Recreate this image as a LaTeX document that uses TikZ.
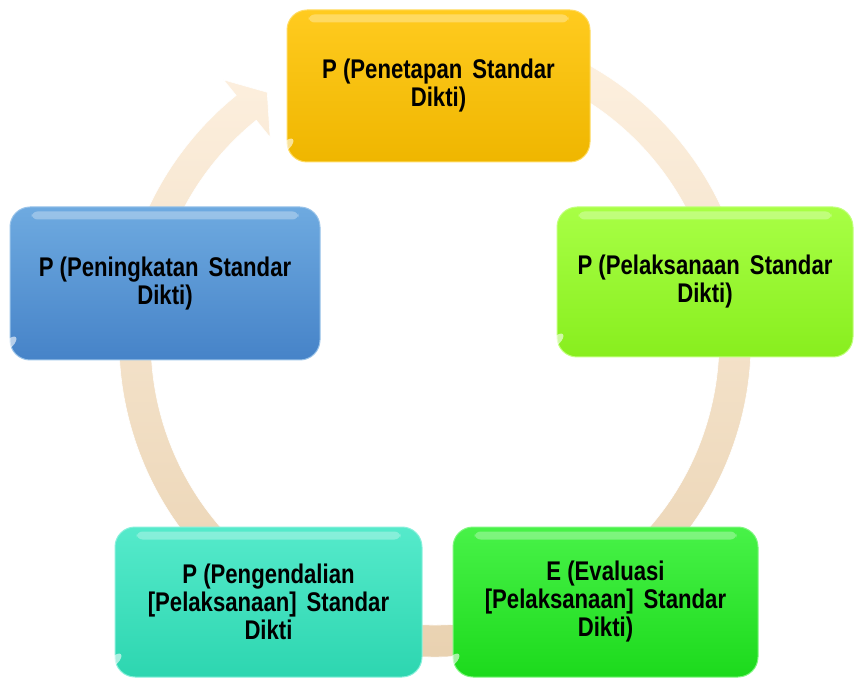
\documentclass[tikz,border=0pt]{standalone}
\usepackage{fontspec}
\setmainfont{Liberation Sans}[FakeStretch=0.82]
\usetikzlibrary{calc}
\definecolor{ringtop}{HTML}{FFF3E4}
\definecolor{ringbot}{HTML}{E8D0AE}
\definecolor{yelT}{HTML}{FFCB1F}
\definecolor{yelB}{HTML}{EFB600}
\definecolor{limT}{HTML}{A8FF45}
\definecolor{limB}{HTML}{88EE1E}
\definecolor{bluT}{HTML}{6EAAE0}
\definecolor{bluB}{HTML}{4683C8}
\definecolor{tealT}{HTML}{55EACB}
\definecolor{tealB}{HTML}{2DD6B0}
\definecolor{grnT}{HTML}{48F248}
\definecolor{grnB}{HTML}{1CDA1C}
\begin{document}
\begin{tikzpicture}[x=1pt,y=1pt,
  box/.style={rounded corners=20pt, inner sep=0pt, align=center,
    font=\fontsize{27}{28}\selectfont\bfseries, text=black, line width=1pt},
  gloss/.style={white, opacity=0.3, rounded corners=6pt}]
\useasboundingbox (0,0) rectangle (854,678);
% faint circular arrow
\coordinate (C) at (435,337);
\shade[top color=ringtop, bottom color=ringbot, draw=white, line width=0.6pt]
  ([shift={(105:316)}]C) arc[start angle=105, end angle=-231, radius=316]
  -- ([shift={(-231:336)}]C) -- ([shift={(-236:300)}]C)
  -- ([shift={(-231:262)}]C) -- ([shift={(-231:284)}]C)
  arc[start angle=-231, end angle=105, radius=284] -- cycle;
% boxes
\node[box, top color=yelT, bottom color=yelB, draw=yelT!70!white,
  minimum width=303, minimum height=152] (pt) at (438.5,592)
  {P (Penetapan\hspace{10pt}Standar\\Dikti)};
\node[box, top color=limT, bottom color=limB, draw=limT!70!white,
  minimum width=296, minimum height=150] (pl) at (705,396)
  {P (Pelaksanaan\hspace{10pt}Standar\\Dikti)};
\node[box, top color=bluT, bottom color=bluB, draw=bluT!70!white,
  minimum width=310, minimum height=153] (pn) at (165,394.5)
  {P (Peningkatan\hspace{10pt}Standar\\Dikti)};
\node[box, top color=tealT, bottom color=tealB, draw=tealT!70!white,
  minimum width=307, minimum height=150] (pg) at (268.5,76)
  {P (Pengendalian\\{}[Pelaksanaan]\hspace{10pt}Standar\\Dikti};
\node[box, top color=grnT, bottom color=grnB, draw=grnT!70!white,
  minimum width=305, minimum height=150] (ev) at (605.5,76)
  {E (Evaluasi\\{}[Pelaksanaan]\hspace{10pt}Standar\\Dikti)};
% glossy highlights
\foreach \n in {pt,pl,pn,pg,ev}{
  \fill[gloss] ([xshift=22pt,yshift=-5pt]\n.north west) rectangle ([xshift=-22pt,yshift=-13pt]\n.north east);
  \fill[white, opacity=0.6, rotate around={45:([xshift=12pt,yshift=12pt]\n.south west)}]
    ([xshift=12pt,yshift=12pt]\n.south west) ellipse[x radius=9pt, y radius=4pt];
}
\end{tikzpicture}
\end{document}
